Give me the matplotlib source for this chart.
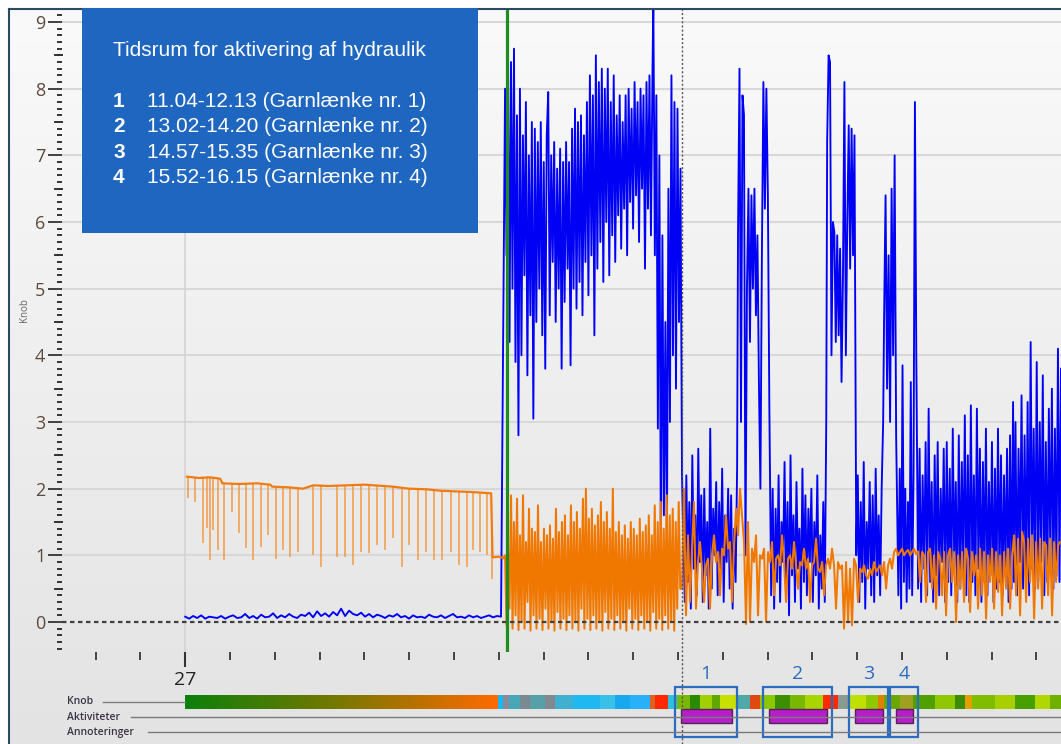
import numpy as np
import matplotlib.pyplot as plt
from matplotlib.colors import LinearSegmentedColormap
from matplotlib.patches import Rectangle
from matplotlib.lines import Line2D
from matplotlib.ticker import MultipleLocator, FixedLocator

plt.rcParams['font.family'] = ['Open Sans', 'DejaVu Sans']

# -----------------------------------------------------------------------------
# data (x in hours after midnight of day 27)
# -----------------------------------------------------------------------------

# blue series, hand read in pieces: (start hour, end hour, values)
blue_low = [0.08, 0.05, 0.09, 0.06, 0.1, 0.05, 0.08, 0.07, 0.06, 0.09,
            0.05, 0.08, 0.1, 0.06, 0.07, 0.12, 0.06, 0.09, 0.05, 0.11,
            0.07, 0.08, 0.13, 0.06, 0.1, 0.07, 0.12, 0.08, 0.06, 0.11,
            0.09, 0.14, 0.07, 0.16, 0.09, 0.13, 0.08, 0.15, 0.1, 0.2,
            0.09, 0.17, 0.12, 0.1, 0.14, 0.08, 0.12, 0.07, 0.11, 0.09,
            0.06, 0.1, 0.08, 0.12, 0.07, 0.09, 0.05, 0.1, 0.07, 0.08,
            0.06, 0.11, 0.08, 0.07, 0.1, 0.06, 0.09, 0.12, 0.07, 0.08,
            0.06, 0.1, 0.07, 0.09, 0.06, 0.08, 0.1, 0.07, 0.09, 0.08]
blue_burst = [8.0, 5.5, 8.5, 4.2, 8.4, 5.0, 8.6, 3.9, 7.6, 2.8,
              8.0, 4.0, 7.3, 5.2, 7.8, 3.7, 7.0, 4.6, 7.5, 3.05,
              7.4, 4.5, 7.2, 5.0, 7.5, 4.3, 6.9, 3.8, 7.3, 7.95,
              4.6, 7.0, 5.4, 7.2, 4.5, 6.8, 5.0, 7.1, 3.8, 6.9,
              4.8, 7.2, 5.3, 6.9, 3.85, 7.4, 5.0, 7.7, 4.7, 7.5,
              5.1, 7.6, 4.6, 7.3, 5.4, 7.8, 4.9, 8.2, 5.5, 7.9,
              4.3, 8.5, 5.3, 8.1, 5.7, 8.3, 5.1, 8.0, 6.0, 8.3,
              5.2, 7.8, 5.8, 8.2, 5.4, 7.6, 6.1, 7.9, 5.6, 7.5,
              6.2, 7.9, 5.5, 8.0, 6.3, 7.7, 5.9, 8.1, 6.4, 7.8,
              5.7, 8.0, 6.5, 7.9, 5.3, 8.1, 6.2, 8.2, 5.8, 8.2]
blue_drop = [9.3, 5.5, 7.9, 2.9, 7.0, 0.93, 5.8, 1.6, 4.5, 1.2,
             6.5, 3.0, 8.2, 4.0, 7.8, 3.5, 7.7, 4.5, 6.8, 2.2]
blue_act1 = [1.2, 0.3, 2.2, 0.6, 1.8, 0.2, 2.5, 0.8, 1.6, 0.4,
             2.6, 0.9, 1.9, 0.3, 2.0, 0.7, 1.5, 0.2, 2.9, 0.5,
             1.7, 1.0, 2.1, 0.4, 1.8, 0.8, 2.3, 0.3, 1.6, 0.9,
             2.0, 0.5, 1.9, 0.2, 1.4, 0.6, 2.3]
blue_peaks1 = [5.8, 8.3, 3.0, 7.9, 7.6, 1.0, 5.0, 6.5, 4.2, 6.4, 5.0,
               6.5, 4.6, 5.8, 3.6, 2.0, 5.5, 8.1, 6.2, 8.0, 6.4, 3.2]
blue_act2 = [0.4, 2.0, 0.2, 1.7, 0.6, 2.2, 0.3, 1.5, 0.9, 2.4,
             0.5, 1.8, 0.1, 2.5, 0.7, 1.6, 0.3, 2.1, 0.8, 1.4,
             0.2, 2.3, 0.6, 1.9, 0.4, 1.7, 0.9, 2.0, 0.3, 1.5,
             0.7, 2.2, 0.2, 1.3, 0.5, 1.8, 0.3, 3.0]
blue_peaks2 = [7.2, 8.5, 8.4, 4.0, 6.0, 5.85, 4.2, 5.8, 4.3, 5.6,
               3.6, 5.2, 8.1, 4.0, 6.0, 7.45, 5.3, 7.4, 5.5, 7.3]
blue_gap = [1.0, 2.2, 0.3, 1.8, 0.6, 2.4, 0.2, 1.5, 0.8, 2.1,
            0.4, 1.9, 0.3, 2.3, 0.7, 1.6, 0.4, 2.0, 3.0]
blue_peaks3 = [4.5, 6.4, 3.5, 5.5, 3.0, 6.5, 4.0, 7.0, 2.8]
blue_act4 = [0.4, 2.3, 0.2, 3.85, 0.6, 2.0, 0.3, 1.8, 0.5, 3.6, 0.4, 2.2, 7.8, 4.0]
blue_tail = [0.5, 2.6, 0.3, 2.2, 0.8, 2.7, 0.4, 3.2, 0.6, 2.1,
             0.3, 2.5, 0.7, 2.7, 0.4, 2.0, 0.9, 2.6, 0.3, 2.7,
             0.6, 2.3, 0.4, 2.9, 0.8, 2.1, 0.3, 2.8, 0.5, 2.4,
             0.7, 3.1, 0.4, 2.5, 0.3, 3.25, 0.6, 2.2, 0.4, 3.2,
             0.8, 2.6, 0.3, 2.4, 0.6, 2.9, 0.4, 2.1, 0.7, 2.7,
             0.3, 2.3, 0.5, 2.9, 0.6, 2.5, 0.4, 2.2, 0.8, 2.6,
             0.3, 2.8, 0.5, 3.3]
blue_end = [0.6, 3.0, 0.4, 2.6, 0.9, 3.4, 0.5, 2.8, 0.7, 3.3,
            0.4, 4.2, 0.8, 2.9, 0.5, 3.9, 0.6, 3.0, 0.9, 3.7,
            0.4, 2.7, 0.6, 3.2, 0.8, 3.5, 0.5, 2.9, 0.7, 4.1,
            0.6, 3.8]
blue_pieces = [blue_low, blue_burst, blue_drop, blue_act1, blue_peaks1, blue_act2,
               blue_peaks2, blue_gap, blue_peaks3, blue_act4, blue_tail, blue_end]
blue_t0 = [0.0, 7.14, 10.45, 11.12, 12.34, 13.08, 14.33, 14.98, 15.60, 15.92, 16.36, 18.50]
blue_t1 = [7.05, 10.43, 11.09, 12.32, 13.04, 14.31, 14.94, 15.58, 15.87, 16.32, 18.48, 19.55]

# orange series: flat part with periodic dips, then two noisy pieces
orange_base_t = [0.04, 0.3, 0.55, 0.78, 0.83, 1.2, 1.6, 1.9, 1.94, 2.3, 2.63, 2.86, 3.2,
                 3.6, 4.0, 4.64, 5.0, 5.4, 5.69, 6.0, 6.4, 6.83, 6.86, 7.0, 7.1]
orange_base_v = [2.18, 2.16, 2.17, 2.15, 2.08, 2.07, 2.08, 2.06, 2.03, 2.02, 2.0, 2.05, 2.04,
                 2.05, 2.06, 2.03, 2.0, 1.99, 1.97, 1.96, 1.95, 1.93, 0.97, 0.98, 0.96]
orange_dip_t = [0.07, 0.22, 0.40, 0.49, 0.56, 0.63, 0.74, 0.87, 1.05, 1.21,
                1.36, 1.52, 1.70, 1.85, 2.03, 2.19, 2.34, 2.52, 2.86, 3.04,
                3.39, 3.57, 3.75, 3.93, 4.11, 4.29, 4.46, 4.64, 4.84, 5.0,
                5.2, 5.38, 5.56, 5.74, 5.94, 6.12, 6.29, 6.43, 6.58, 6.74, 6.85]
orange_dip_v = [1.86, 1.80, 1.18, 1.41, 0.93, 1.38, 1.08, 0.93, 1.65, 1.33,
                1.11, 0.93, 1.13, 1.31, 0.95, 1.08, 0.98, 1.05, 1.0, 0.83,
                0.98, 0.98, 0.86, 1.05, 1.03, 1.15, 1.08, 1.26, 0.83, 1.15,
                0.93, 1.05, 0.93, 0.93, 1.05, 0.86, 0.83, 1.08, 1.05, 1.01, 0.65]
orange_noisy = [1.0, -0.05, 1.1, 0.2, 1.9, -0.1, 1.5, 0.1, 1.85, -0.12,
                1.3, 0.0, 1.9, -0.1, 1.2, 0.3, 1.7, -0.13, 1.4, 0.1,
                1.35, -0.1, 1.75, 0.05, 1.2, -0.12, 1.4, 0.2, 1.3, -0.1,
                1.45, 0.0, 1.25, -0.13, 1.7, 0.15, 1.35, -0.1, 1.5, 0.05,
                1.6, -0.12, 1.3, 0.1, 1.75, -0.1, 1.5, 0.0, 1.65, -0.13,
                1.4, 0.2, 1.85, -0.1, 2.0, 0.05, 1.55, -0.12, 1.7, 0.1,
                1.45, -0.1, 1.6, 0.0, 1.8, -0.13, 1.5, 0.15, 1.65, -0.1,
                1.4, 0.05, 2.0, -0.12, 1.35, 0.1, 1.5, -0.1, 1.3, 0.0,
                1.45, -0.13, 1.25, 0.2, 1.5, -0.1, 1.4, 0.05, 1.3, -0.12,
                1.55, 0.1, 1.35, -0.1, 1.45, 0.0, 1.6, -0.13, 1.3, 0.15,
                1.75, -0.1, 1.5, 0.05, 1.8, -0.12, 1.4, 0.1, 1.9, -0.1,
                1.6, 0.0, 1.7, -0.13, 1.5, 0.2, 1.8, 0.5]
orange_late = [0.5, 2.0, 0.1, 1.3, 0.3, 1.1, 1.8, 0.2, 0.9, 1.2,
               0.8, 0.3, 0.85, 0.95, 0.2, 1.0, 1.3, 0.9, 1.05, 0.4,
               1.1, 1.0, 1.6, 1.1, 1.2, 0.3, 1.15, 1.7, 1.3, 2.0,
               1.6, 1.2, -0.03, 1.5, 0.0, 1.1, 0.9, 1.3, 0.1, 1.0,
               0.95, 1.1, 0.0, 1.05, 0.9, 1.2, 0.4, 0.95, 1.0, 0.85,
               1.3, 0.9, 0.3, 0.95, 1.0, 0.8, 1.2, 0.85, 0.5, 0.9,
               0.85, 1.1, 0.8, 0.95, 0.3, 0.85, 0.9, 1.25, 0.8, 0.75,
               0.9, 0.4, 0.85, 0.95, 0.8, 1.1, 0.85, 0.2, 0.9, 0.8,
               0.85, -0.1, 0.9, 0.0, 0.8, -0.05, 0.95, 0.85, 0.3, 0.8,
               0.75, 0.85, 0.7, 0.65, 0.8, 0.7, 0.9, 0.75, 0.8, 0.85,
               0.7, 0.9, 0.5, 0.85, 0.95, 0.8, 1.05, 1.1, 1.0, 1.05,
               1.1, 1.0, 1.05, 1.08, 1.0, 1.05, 1.1, 1.02, 1.06, 0.6,
               1.05, 1.0, 0.3, 1.05, 1.1, 0.5, 1.0, 0.2, 1.05, 0.95,
               0.4, 1.05, 0.1, 1.0, 1.1, 0.6, 1.05, 0.0, 1.0, 0.5,
               1.05, 0.3, 1.1, 0.95, 0.15, 1.05, 0.7, 1.0, 0.2, 1.1,
               0.4, 1.05, 0.05, 1.0, 0.6, 1.1, 0.2, 1.05, 0.45, 1.0,
               0.1, 1.05, 0.5, 1.1, 0.2, 1.0, 1.3, 0.4, 1.25, 0.1,
               1.35, 1.2, 0.3, 1.25, 0.6, 1.3, 0.05, 1.2, 0.5, 1.25,
               0.2, 1.2, 1.15, 0.4, 1.25, 0.1, 1.2, 0.6, 1.15, 1.2]
orange_noisy_span = (7.14, 11.05)
orange_late_span = (11.09, 19.53)

green_marker = 7.19
cursor = 11.08

# hydraulics periods (from the info box)
period_start = ["11.04", "13.02", "14.57", "15.52"]
period_end = ["12.13", "14.20", "15.35", "16.15"]

# knob colour strip: gradient first, then coloured stripes
knob_grad_end = 6.99
knob_left = [6.99, 7.10, 7.23, 7.48, 7.70, 8.04, 8.26, 8.66, 9.26, 9.60, 9.93, 10.38, 10.49,
             10.78, 10.98, 11.27, 11.50, 11.76, 11.94, 12.32, 12.61, 12.83, 13.17, 13.50,
             13.84, 14.24, 14.58, 14.80, 15.20, 15.47, 15.60, 15.96, 16.25, 16.74, 17.19,
             17.41, 17.57, 18.08, 18.53, 18.97, 19.31]
knob_right = knob_left[1:] + [19.6]
knob_colors = ['#18b8f0', '#8a8a9a', '#48a8b8', '#7a8a90', '#58a0a8', '#808890', '#40b0d0',
               '#20b8f0', '#38c0e8', '#18a8f0', '#28b0f8', '#e06020', '#ff2800', '#30c0e0',
               '#7ab800', '#2a8a00', '#a0d000', '#60a800', '#c8e000', '#50a8a8', '#e04810',
               '#8cc800', '#3c9000', '#78b800', '#a8d400', '#ff2a00', '#8a9a90', '#c0e000',
               '#90c800', '#e08000', '#6aa800', '#a0a020', '#50a000', '#90c800', '#3c8c00',
               '#e0a000', '#80bc00', '#a8d000', '#48a000', '#b0d800', '#70b000']

track_names = ["Knob", "Aktiviteter", "Annoteringer"]


# -----------------------------------------------------------------------------
W, H = 1061, 744


def fx(px):
    return px / W


def fy(py):
    return 1 - py / H


def to_hours(s):
    hh, mm = s.split(".")
    return int(hh) + int(mm) / 60


fig = plt.figure(figsize=(10.61, 7.44), dpi=100)
fig.patch.set_facecolor("white")

# app background gradient
bg = fig.add_axes([fx(9), 0, 1 - fx(9), fy(9)], zorder=-10)
bg.imshow(np.linspace(0, 1, 256)[:, None], aspect="auto", extent=[0, 1, 0, 1],
          cmap=LinearSegmentedColormap.from_list("bg", ["#fafafa", "#e3e3e3"]))
bg.axis("off")

XLIM = (-2.75, 19.55)

ax = fig.add_axes([fx(62), fy(652), 1 - fx(62), fy(8) - fy(652)])
ax.set_facecolor("none")
for s in ax.spines.values():
    s.set_visible(False)

for k in range(1, 10):
    ax.axhline(k, color="#d8d8d8", lw=1.5, zorder=0.5)
ax.axvline(0, color="#d4d4d4", lw=1.2, zorder=0.5)
ax.axhline(0, color="#404040", lw=1.6, ls=(0, (2, 1.6)), zorder=5)

# blue
bx = np.concatenate([np.linspace(a, b, len(v)) for a, b, v in zip(blue_t0, blue_t1, blue_pieces)])
by = np.concatenate(blue_pieces)
ax.plot(bx, by, color="#0000f5", lw=1.35, zorder=2)

# orange
base_at_dip = np.interp(orange_dip_t, orange_base_t, orange_base_v)
ax.vlines(orange_dip_t, orange_dip_v, base_at_dip, color="#f29a45", lw=1.1, zorder=3)
ax.plot(orange_base_t, orange_base_v, color="#f07c10", lw=1.6, zorder=3)
ox = np.concatenate([orange_base_t[-1:],
                     np.linspace(*orange_noisy_span, len(orange_noisy)),
                     np.linspace(*orange_late_span, len(orange_late))])
oy = np.concatenate([orange_base_v[-1:], orange_noisy, orange_late])
ax.plot(ox, oy, color="#f07800", lw=1.45, zorder=3)

ax.axvline(green_marker, color="#1e8c1e", lw=2.3, zorder=6)
ax.axvline(cursor, color="#555555", lw=1.0, ls=(0, (1.5, 1.5)), zorder=6)

ax.set_xlim(*XLIM)
ax.set_ylim(-0.45, 9.21)

ax.set_yticks(range(10))
ax.yaxis.set_minor_locator(MultipleLocator(0.1))
ax.tick_params(axis="y", which="major", length=10, width=1.3, color="#333333",
               pad=2, labelsize=13, labelcolor="#5c4a3a")
ax.tick_params(axis="y", which="minor", length=3.6, width=1.4, color="#333333")
for k in np.arange(0.5, 9, 1.0):
    ax.plot([-0.0075, 0], [k, k], transform=ax.get_yaxis_transform(), color="#333333",
            lw=1.4, clip_on=False, zorder=5)

ax.set_xticks([0])
ax.set_xticklabels(["27"])
ax.xaxis.set_minor_locator(FixedLocator(list(range(-2, 20))))
ax.tick_params(axis="x", which="major", length=11, width=1.5, color="#333333",
               pad=3, labelsize=14, labelcolor="#222222")
ax.tick_params(axis="x", which="minor", length=5.8, width=1.4, color="#444444")

fig.text(fx(25), fy(310), "Knob", rotation=90, fontsize=7, color="#666666",
         ha="center", va="center")

# tracks below the chart
ax2 = fig.add_axes([fx(62), 0, 1 - fx(62), fy(652)])
ax2.set_facecolor("none")
ax2.axis("off")

knob_cmap = LinearSegmentedColormap.from_list("knob", ["#0a800a", "#7a7800", "#ff6a00"])
ax2.imshow(np.linspace(0, 1, 256)[None, :], extent=[0, knob_grad_end, 709, 695],
           aspect="auto", cmap=knob_cmap, zorder=2)
ax2.barh(702, np.array(knob_right) - np.array(knob_left), left=knob_left, height=14,
         color=knob_colors, zorder=2)

starts = np.array([to_hours(s) for s in period_start])
ends = np.array([to_hours(s) for s in period_end])
ax2.barh(716, ends - starts, left=starts, height=14, color="#b51ec9",
         edgecolor="#552255", lw=1, zorder=3)
for i, (s, e) in enumerate(zip(starts, ends)):
    ax2.add_patch(Rectangle((s - 0.14, 687), (e - s) + 0.25, 50, fill=False,
                            edgecolor="#2a6cc0", lw=1.6, zorder=4))
    ax2.text((s - 0.14 + e + 0.11) / 2, 674, str(i + 1), color="#2a6cc0", fontsize=14,
             ha="center", va="center")
ax2.axvline(cursor, color="#555555", lw=1.0, ls=(0, (1.5, 1.5)), zorder=6)
ax2.set_xlim(*XLIM)
ax2.set_ylim(744, 652)

track_y = [702, 717, 732]
line_from = [103, 131, 148]
line_to = [185, W, W]
for name, ty, x0, x1 in zip(track_names, track_y, line_from, line_to):
    fig.text(fx(67), fy(ty), name, fontsize=7.5, color="#3a3446", fontweight="semibold",
             va="center", ha="left")
    fig.add_artist(Line2D([fx(x0), fx(x1)], [fy(ty), fy(ty)], color="#7a7a7a", lw=1.0,
                          zorder=1))

# outer frame
fig.add_artist(Line2D([fx(8.5), fx(8.5)], [0, fy(8.5)], color="#2c4a60", lw=1.5))
fig.add_artist(Line2D([fx(8.5), 1], [fy(8.5), fy(8.5)], color="#2c4a60", lw=1.5))

# info box
fig.add_artist(Rectangle((fx(82), fy(233)), fx(478) - fx(82), fy(8) - fy(233),
                         transform=fig.transFigure, facecolor="#1e66c0",
                         edgecolor="none", zorder=20))
box_font = ["Liberation Sans", "DejaVu Sans"]
fig.text(fx(113), fy(56), "Tidsrum for aktivering af hydraulik", color="white",
         fontsize=15, family=box_font, va="baseline", zorder=21)
for i, (a, b) in enumerate(zip(period_start, period_end)):
    yb = fy(107 + 25.3 * i)
    fig.text(fx(113), yb, str(i + 1), color="white", fontsize=15, family=box_font,
             fontweight="bold", va="baseline", zorder=21)
    fig.text(fx(147), yb, f"{a}-{b} (Garnlænke nr. {i + 1})", color="white",
             fontsize=15, family=box_font, va="baseline", zorder=21)

fig.savefig("out.png", dpi=100)
